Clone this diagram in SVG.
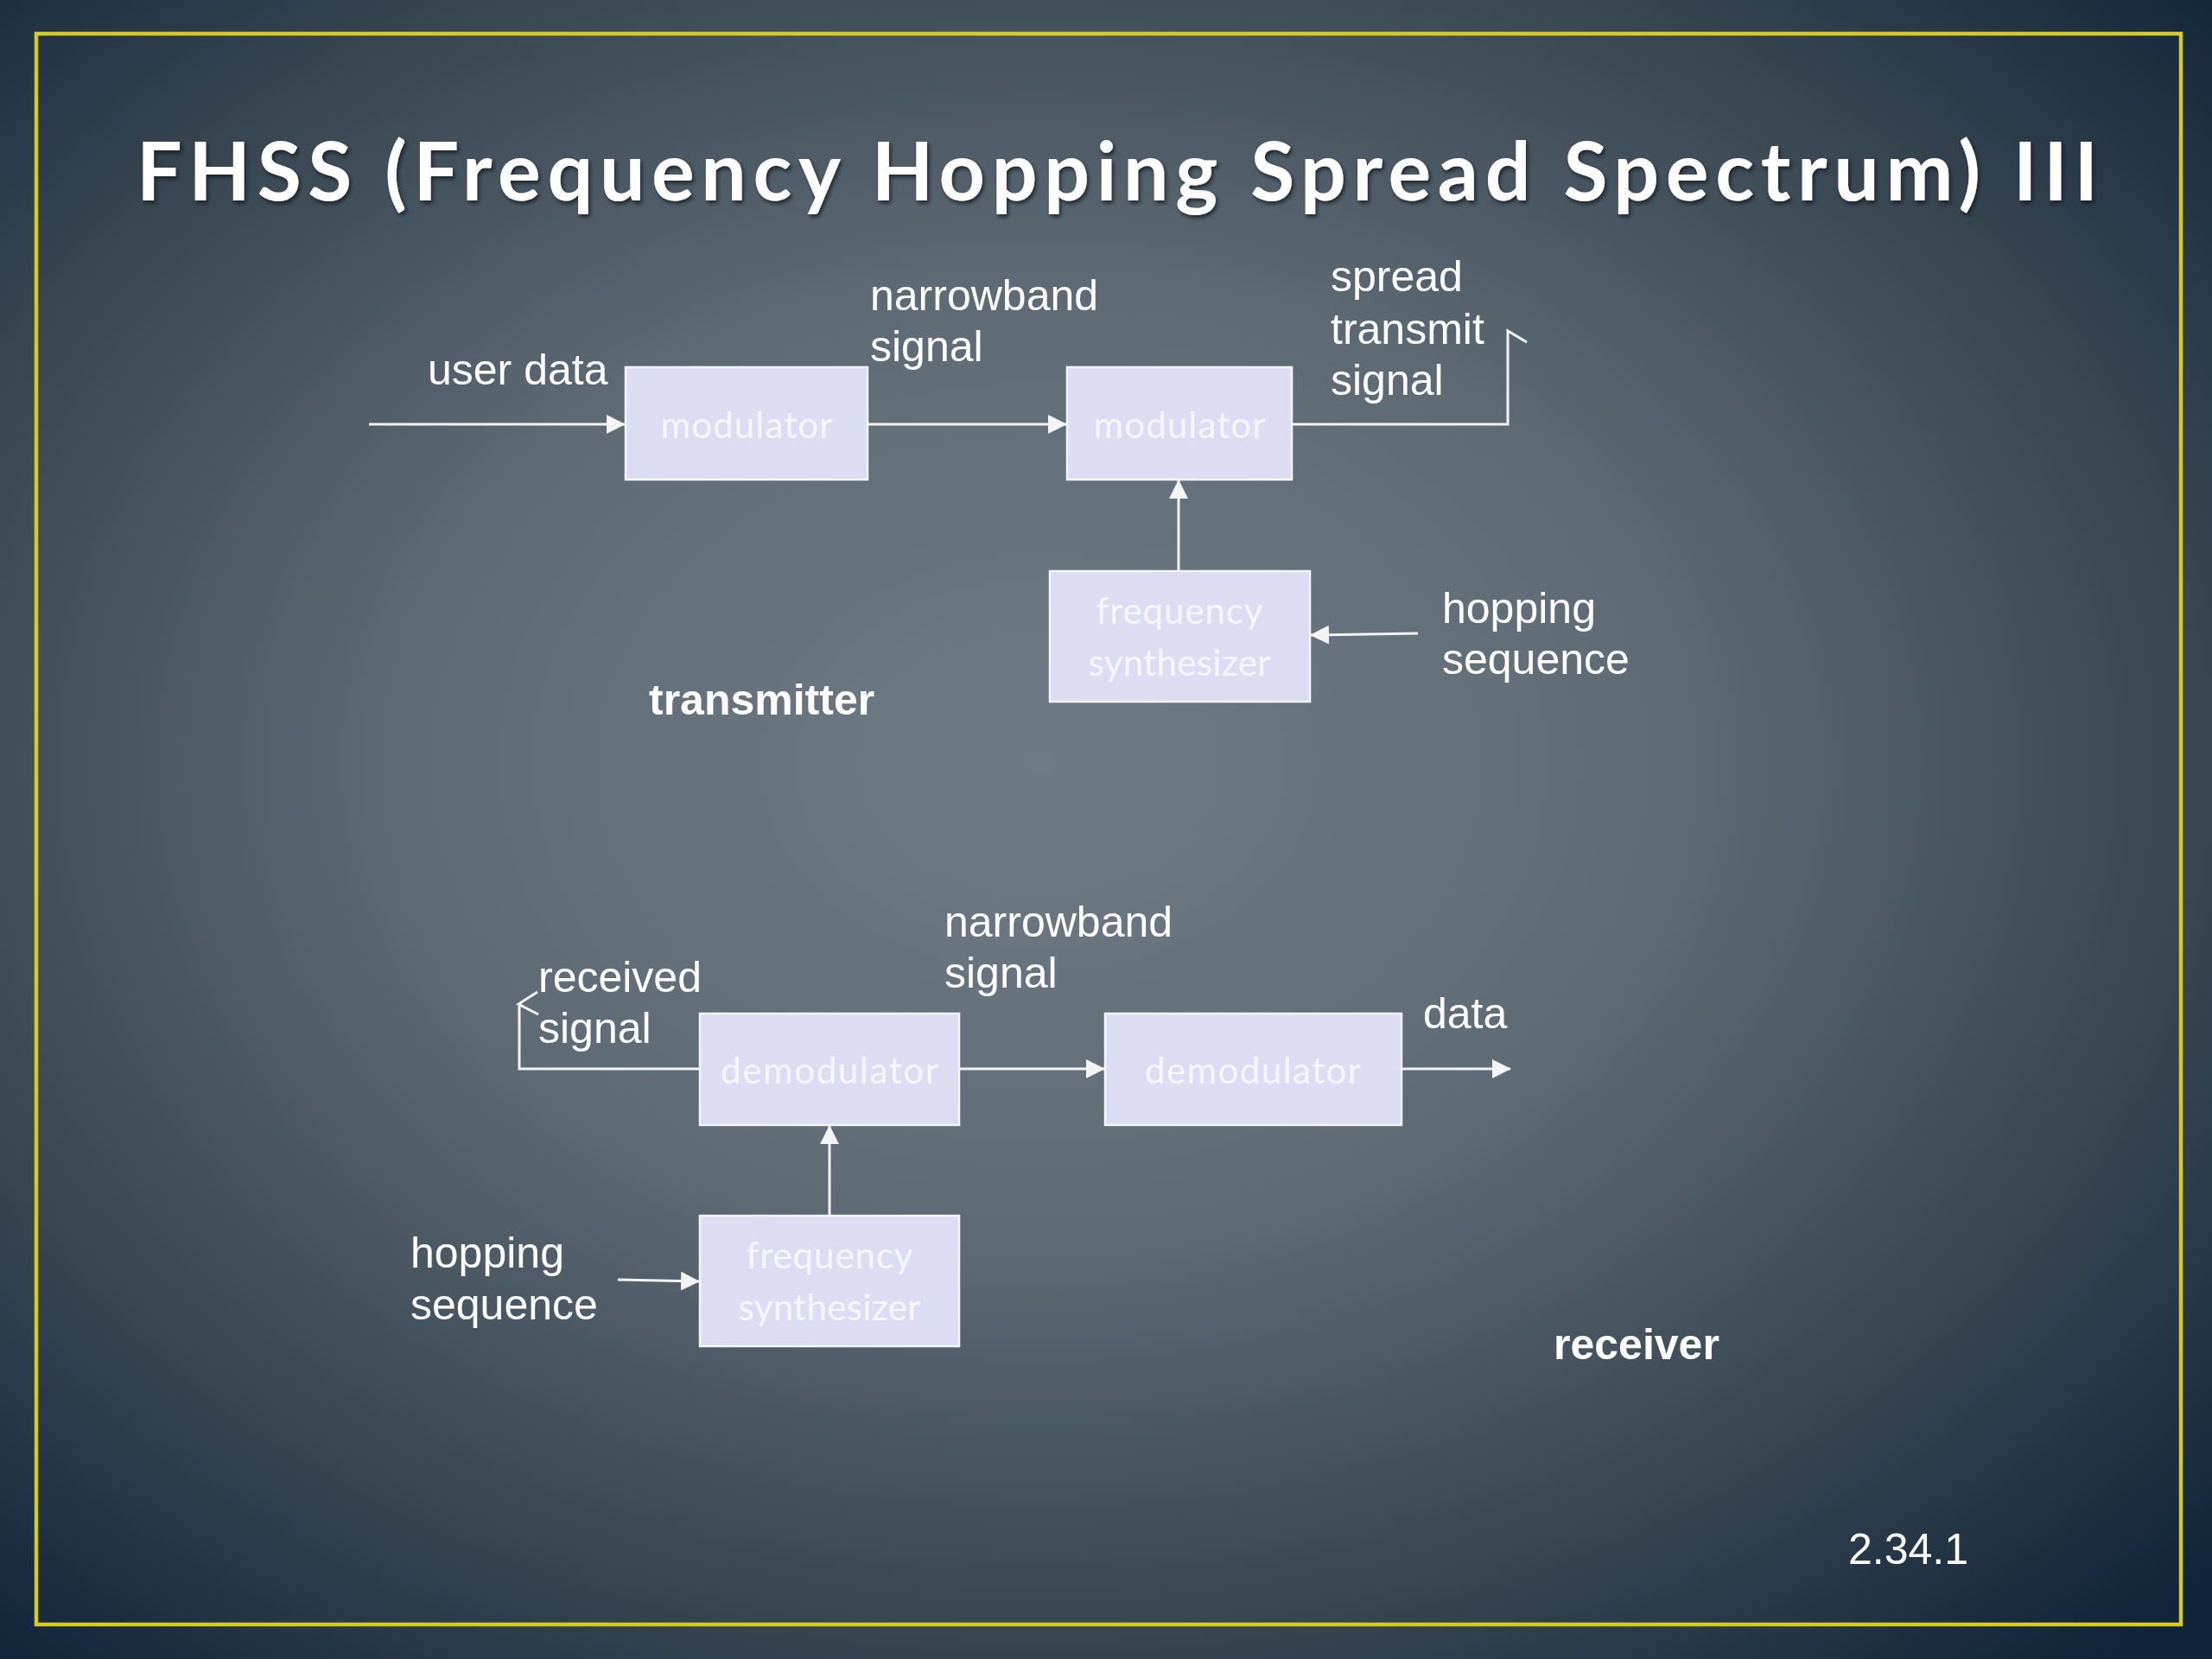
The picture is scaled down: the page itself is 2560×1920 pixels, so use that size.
<svg xmlns="http://www.w3.org/2000/svg" width="2560" height="1920" viewBox="0 0 2560 1920">
  <defs>
    <radialGradient id="bg" cx="0.47" cy="0.46" r="0.72">
      <stop offset="0" stop-color="#6f7c86"/>
      <stop offset="0.4" stop-color="#5e6b75"/>
      <stop offset="0.75" stop-color="#35434f"/>
      <stop offset="1" stop-color="#10233a"/>
    </radialGradient>
    <filter id="shadow" x="-5%" y="-20%" width="110%" height="140%">
      <feDropShadow dx="2" dy="3" stdDeviation="2" flood-color="#0a1520" flood-opacity="0.8"/>
    </filter>
    <marker id="arrow" markerUnits="userSpaceOnUse" markerWidth="24" markerHeight="24" refX="21" refY="11" orient="auto">
      <path d="M0,0 L22,11 L0,22 z" fill="#f4f4f4"/>
    </marker>
    <style>
      .box { fill: #dcdcf3; stroke: #f6f6ff; stroke-width: 2.5; }
      .boxtxt { font-family: Lato, "Open Sans", "Liberation Sans", sans-serif; font-size: 42px; fill: #f7f7ff; text-anchor: middle; }
      .lbl { font-family: "Liberation Sans", Arial, sans-serif; font-size: 50px; fill: #ffffff; }
      .bold { font-weight: bold; }
      .conn { fill: none; stroke: #f4f4f4; stroke-width: 3; }
    </style>
  </defs>

  <rect x="0" y="0" width="2560" height="1920" fill="url(#bg)"/>
  <rect x="42" y="39" width="2482" height="1841" fill="none" stroke="#d6cb1e" stroke-width="4.5"/>

  <text x="158" y="232" font-family="Lato, 'Open Sans', 'Liberation Sans', sans-serif" font-size="93" font-weight="bold" fill="#ffffff" textLength="2270" lengthAdjust="spacing" filter="url(#shadow)">FHSS (Frequency Hopping Spread Spectrum) III</text>

  <!-- Transmitter nodes -->
  <g id="tx-modulator1">
    <rect class="box" x="724" y="425" width="280" height="130"/>
    <text class="boxtxt" x="864" y="507" textLength="199" lengthAdjust="spacing">modulator</text>
  </g>
  <g id="tx-modulator2">
    <rect class="box" x="1235" y="425" width="260" height="130"/>
    <text class="boxtxt" x="1365" y="507" textLength="199" lengthAdjust="spacing">modulator</text>
  </g>
  <g id="tx-synth">
    <rect class="box" x="1215" y="661" width="301" height="151"/>
    <text class="boxtxt" x="1365" y="722" textLength="193" lengthAdjust="spacing">frequency</text>
    <text class="boxtxt" x="1365" y="782" textLength="211" lengthAdjust="spacing">synthesizer</text>
  </g>

  <!-- Receiver nodes -->
  <g id="rx-demodulator1">
    <rect class="box" x="810" y="1173" width="300" height="129"/>
    <text class="boxtxt" x="960" y="1254" textLength="252" lengthAdjust="spacing">demodulator</text>
  </g>
  <g id="rx-demodulator2">
    <rect class="box" x="1279" y="1173" width="343" height="129"/>
    <text class="boxtxt" x="1450" y="1254" textLength="250" lengthAdjust="spacing">demodulator</text>
  </g>
  <g id="rx-synth">
    <rect class="box" x="810" y="1407" width="300" height="151"/>
    <text class="boxtxt" x="960" y="1468" textLength="193" lengthAdjust="spacing">frequency</text>
    <text class="boxtxt" x="960" y="1528" textLength="211" lengthAdjust="spacing">synthesizer</text>
  </g>

  <!-- Connectors -->
  <g id="connectors">
    <line class="conn" x1="427" y1="491" x2="723" y2="491" marker-end="url(#arrow)"/>
    <line class="conn" x1="1004" y1="491" x2="1234" y2="491" marker-end="url(#arrow)"/>
    <polyline class="conn" points="1495,491 1745,491 1745,383 1767,396"/>
    <line class="conn" x1="1364" y1="661" x2="1364" y2="556" marker-end="url(#arrow)"/>
    <line class="conn" x1="1641" y1="733" x2="1517" y2="735" marker-end="url(#arrow)"/>

    <polyline class="conn" points="810,1237 601,1237 601,1163"/>
    <polyline class="conn" points="622,1148 600,1162 623,1174"/>
    <line class="conn" x1="1110" y1="1237" x2="1278" y2="1237" marker-end="url(#arrow)"/>
    <line class="conn" x1="1622" y1="1237" x2="1748" y2="1237" marker-end="url(#arrow)"/>
    <line class="conn" x1="960" y1="1407" x2="960" y2="1303" marker-end="url(#arrow)"/>
    <line class="conn" x1="715" y1="1481" x2="809" y2="1483" marker-end="url(#arrow)"/>
  </g>

  <!-- Labels -->
  <g id="labels">
    <text class="lbl" x="495" y="445">user data</text>
    <text class="lbl" x="1007" y="359">narrowband</text>
    <text class="lbl" x="1007" y="418">signal</text>
    <text class="lbl" x="1540" y="337">spread</text>
    <text class="lbl" x="1540" y="398">transmit</text>
    <text class="lbl" x="1540" y="457">signal</text>
    <text class="lbl" x="1669" y="721">hopping</text>
    <text class="lbl" x="1669" y="780">sequence</text>
    <text class="lbl bold" x="751" y="827">transmitter</text>

    <text class="lbl" x="623" y="1148">received</text>
    <text class="lbl" x="623" y="1207">signal</text>
    <text class="lbl" x="1093" y="1084">narrowband</text>
    <text class="lbl" x="1093" y="1143">signal</text>
    <text class="lbl" x="1647" y="1190">data</text>
    <text class="lbl" x="475" y="1467">hopping</text>
    <text class="lbl" x="475" y="1527">sequence</text>
    <text class="lbl bold" x="1798" y="1573">receiver</text>
    <text class="lbl" x="2139" y="1810" font-size="48">2.34.1</text>
  </g>
</svg>
